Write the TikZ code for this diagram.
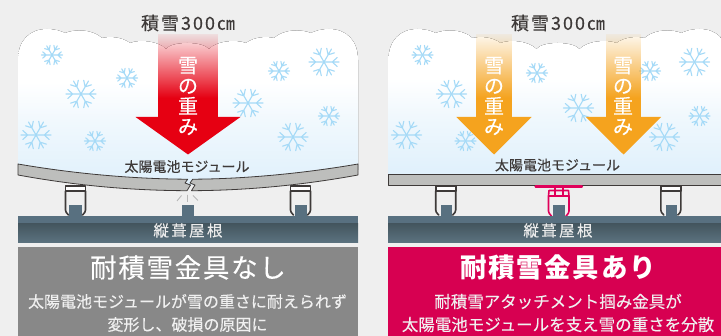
\documentclass[tikz,border=0pt]{standalone}
\usepackage{fontspec}
\setmainfont{Noto Sans CJK JP}
\usetikzlibrary{fadings}
\definecolor{pagebg}{HTML}{EFEFEF}
\definecolor{snowlow}{HTML}{E1F1FC}
\definecolor{snowmid}{HTML}{F0F8FD}
\definecolor{flakeblue}{HTML}{A5DAF7}
\definecolor{panelgrey}{HTML}{BDBEBC}
\definecolor{inkdark}{HTML}{3E3A39}
\definecolor{seam}{HTML}{587080}
\definecolor{roofdark}{HTML}{44565F}
\definecolor{rooflow}{HTML}{5C7380}
\definecolor{heavyred}{HTML}{E60012}
\definecolor{heavyorange}{HTML}{F5A31E}
\definecolor{boxgrey}{HTML}{888888}
\definecolor{boxpink}{HTML}{D70051}
\definecolor{guardpink}{HTML}{E0005A}
\pgfdeclareverticalshading{snowfall}{100bp}{color(0bp)=(snowlow); color(27bp)=(snowlow); color(45bp)=(snowmid); color(58bp)=(white); color(100bp)=(white)}
\tikzfading[name=risefade, top color=transparent!93, bottom color=transparent!0]
\tikzset{
  x=1pt, y=-1pt,
  snowbody/.style={shading=snowfall, draw=none},
  moduleplate/.style={fill=panelgrey, draw=inkdark, line width=0.8pt, line join=round},
  roofcap/.style={fill=seam, draw=none},
  roofbody/.style={top color=roofdark, bottom color=rooflow, draw=none},
  ink/.style={text=#1, inner sep=0pt, align=center},
  labeltop/.style={ink=inkdark, font=\fontsize{18}{20}\selectfont\addfontfeatures{LetterSpace=11,FakeBold=0.15}},
  labelmodule/.style={ink=inkdark, font=\fontsize{14}{16}\selectfont\addfontfeatures{FakeBold=0.2}},
  labelroof/.style={ink=white!92!black, font=\fontsize{15.5}{18}\selectfont\addfontfeatures{LetterSpace=15,FakeBold=0.2}},
  labelweight/.style={ink=white, font=\fontsize{20}{20.4}\selectfont\addfontfeatures{FakeBold=0.2}},
  labeltitle/.style={ink=white, font=\fontsize{26.5}{30}\selectfont\addfontfeatures{LetterSpace=6.5,FakeBold=0.2}},
  labelnote/.style={ink=white!94!black, font=\fontsize{16}{23}\selectfont\addfontfeatures{FakeBold=0.2}},
  labelnotewide/.style={ink=white!94!black, font=\fontsize{16.5}{23}\selectfont\addfontfeatures{FakeBold=0.2}},
  pics/flake/.style={code={
    \foreach \a in {0,60,...,300}{
      \draw[flakeblue, line width=1.1pt, line cap=round, rotate=\a]
        (0,0) -- (#1,0)
        (0.55*#1,0) -- (0.88*#1,-0.30*#1)
        (0.55*#1,0) -- (0.88*#1, 0.30*#1);
    }}},
  pics/clamp/.style={code={
    \draw[#1, line width=1.6pt, line join=round, line cap=round, fill=white]
      (-10,0) -- (10,0) -- (10,5) -- (-10,5) -- cycle;
    \draw[#1, line width=1.6pt, line join=round, line cap=round]
      (-10,5) -- (-10,24) .. controls (-10,26) and (-9,27) .. (-7,29)
      (10,5) -- (10,24) .. controls (10,26) and (9,27) .. (7,29);
  }},
}
% Outline of the snow top, running left to right from the given base corner
\newcommand{\snowtop}{
  .. controls (18,40) and (30,29) .. (47,29)
  .. controls (55,29) and (61,31) .. (65,33)
  .. controls (75,29) and (92,29) .. (102,38)
  .. controls (110,36) and (122,37) .. (130,43)
  .. controls (140,39) and (158,41) .. (166,49)
  .. controls (172,41) and (202,41) .. (209,49)
  .. controls (217,41) and (235,39) .. (246,43)
  .. controls (254,37) and (266,36) .. (274,38)
  .. controls (284,29) and (301,29) .. (311,33)
  .. controls (315,31) and (321,29) .. (329,29)
  .. controls (346,29) and (358,40) .. (358,60)
}
% Falling-weight arrow: fading shaft, solid lower shaft and head
\newcommand{\weightarrow}[4]{%
  \fill[#4, path fading=risefade] (#1-#2,34) rectangle (#1+#2,98);
  \fill[#4] (#1-#2,97.6) rectangle (#1+#2,117.5);
  \fill[#4] (#1-#3,117) -- (#1+#3,117) -- (#1,154.5) -- cycle;
}
\begin{document}
\begin{tikzpicture}
\useasboundingbox (0,0) rectangle (721,336);
\fill[pagebg] (0,0) rectangle (721,336);
\clip (0,0) rectangle (721,336);

% ---------- panel without snow guards ----------
\fill[snowbody] (18,170) -- (18,60) \snowtop -- (358,170)
   .. controls (306,178) and (246,185) .. (188,185)
   .. controls (130,185) and (70,178) .. (18,170) -- cycle;
\foreach \px/\py/\r in {52/55/10.5, 81/94/15, 127/78/10.5, 36/135/15, 95/141/10.5,
                        279/71/10.5, 324/62/15, 248/103/15, 329/116/10.5, 293/137/15}
  \pic at (\px,\py) {flake=\r};
\weightarrow{188}{30}{52.5}{heavyred}
\node[labelweight] (weightA) at (188,96) {雪\\の\\重\\み};
\node[labeltop] (depthA) at (188,23) {積雪300㎝};
\node[labelmodule] (moduleA) at (187,166.5) {太陽電池モジュール};

% bent and cracked module
\draw[moduleplate] (18,164) .. controls (70,173) and (130,179) .. (187.7,179.2)
  -- (185,183) -- (190.5,185) -- (187,190.7)
  .. controls (125,190.5) and (70,184.5) .. (18,175) -- cycle;
\draw[moduleplate] (358,164) .. controls (306,173) and (246,179) .. (192.7,179.2)
  -- (190,183) -- (195,185) -- (191.5,190.7)
  .. controls (250,190.5) and (306,184.5) .. (358,175) -- cycle;
\draw[white!72!black, line width=0.9pt]
  (177,201) -- (181.5,195.5) (187.5,195) -- (187.5,202) (193,195.5) -- (198,200.5);

\foreach \cx in {75.5,300.5} \pic at (\cx,186) {clamp=inkdark};
\foreach \sx/\sw in {69/13, 182/12, 295/11.5}
  \fill[seam] (\sx,205) rectangle (\sx+\sw,217);
\fill[roofcap] (18,216) rectangle (358,224.5);
\fill[roofbody] (18,224) rectangle (358,243);
\node[labelroof] (roofA) at (188,230.5) {縦葺屋根};

\fill[boxgrey] (18,247) rectangle (358,336);
\node[labeltitle] (titleA) at (188,267.5) {耐積雪金具なし};
\node[labelnote] (noteA) at (187.5,313) {太陽電池モジュールが雪の重さに耐えられず\\変形し、破損の原因に};

% ---------- panel with snow guards ----------
\begin{scope}[xshift=370.5pt]
\fill[snowbody] (18,175) -- (18,60) \snowtop -- (358,175) -- cycle;
\foreach \px/\py/\r in {52/55/10.5, 81/94/15, 166.5/73/10.5, 36/135/15, 95/141/10.5,
                        279.5/71/10.5, 324/62/15, 208/108/15, 329/116/10.5, 294/137/15}
  \pic at (\px,\py) {flake=\r};
\weightarrow{123.5}{17.7}{37.7}{heavyorange}
\weightarrow{253}{17.7}{37.7}{heavyorange}
\end{scope}
\node[labelweight] (weightB) at (494,96) {雪\\の\\重\\み};
\node[labelweight] (weightC) at (623,96) {雪\\の\\重\\み};
\node[labeltop] (depthB) at (558,23) {積雪300㎝};
\node[labelmodule] (moduleB) at (557.5,165) {太陽電池モジュール};

\draw[moduleplate] (388,174) rectangle (730,185);
\foreach \cx in {445.7,670.8} \pic at (\cx,186) {clamp=inkdark};

% snow guard holding the module from below
\draw[guardpink, line width=2.2pt, line cap=round] (535.5,186.5) -- (582,186.5);
\draw[guardpink, line width=1.6pt, line join=round, line cap=round]
  (555,187) -- (555,196) (563,187) -- (563,196)
  (549.5,190.5) -- (568,190.5)
  (548.5,196) -- (569,196)
  (549,190.5) -- (548.5,196) -- (548.5,211) .. controls (548.5,213) and (549.5,214) .. (551.5,216)
  (568.5,190.5) -- (569,196) -- (569,211) .. controls (569,213) and (568,214) .. (566,216);

\foreach \sx/\sw in {440.7/11.5, 552.7/12.3, 665.7/11.5}
  \fill[seam] (\sx,205) rectangle (\sx+\sw,217);
\fill[roofcap] (388,216) rectangle (730,224.5);
\fill[roofbody] (388,224) rectangle (730,243);
\node[labelroof] (roofB) at (558,230.5) {縦葺屋根};

\fill[boxpink] (388,247) rectangle (730,336);
\node[labeltitle, font=\fontsize{26.5}{30}\selectfont\bfseries\addfontfeatures{LetterSpace=6.5}] (titleB) at (558,267.5) {耐積雪金具あり};
\node[labelnotewide] (noteB) at (558,313) {耐積雪アタッチメント掴み金具が\\太陽電池モジュールを支え雪の重さを分散};
\end{tikzpicture}
\end{document}
